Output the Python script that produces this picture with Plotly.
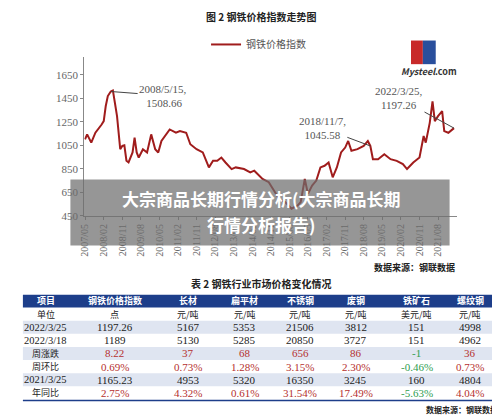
import plotly.graph_objects as go

# 钢铁价格指数
dates = ["2007-05-01", "2007-06-01", "2007-08-01", "2007-10-01", "2008-01-01", "2008-02-01",
         "2008-03-01", "2008-04-01", "2008-05-15", "2008-06-15", "2008-07-15", "2008-08-15",
         "2008-10-01", "2008-11-01", "2008-12-01", "2009-01-01", "2009-02-01", "2009-04-01",
         "2009-05-01", "2009-06-01", "2009-07-01", "2009-09-01", "2009-11-01", "2010-01-01",
         "2010-03-01", "2010-04-15", "2010-06-01", "2010-10-01", "2011-01-01", "2011-03-01",
         "2011-06-01", "2011-08-01", "2011-11-01", "2012-02-01", "2012-05-01", "2012-07-01",
         "2012-09-01", "2012-11-01", "2013-01-01", "2013-04-01", "2013-06-01", "2013-10-01",
         "2014-01-01", "2014-03-01", "2014-07-01", "2014-10-01", "2015-01-01", "2015-03-01",
         "2015-06-01", "2015-09-01", "2015-12-01", "2016-01-15", "2016-03-15", "2016-05-01",
         "2016-07-01", "2016-09-01", "2016-11-01", "2017-01-01", "2017-03-01", "2017-05-01",
         "2017-07-01", "2017-09-01", "2017-11-01", "2017-12-15", "2018-02-01", "2018-05-01",
         "2018-08-01", "2018-10-01", "2018-11-07", "2018-12-15", "2019-03-01", "2019-06-01",
         "2019-09-01", "2019-12-01", "2020-03-01", "2020-05-01", "2020-08-01", "2020-11-01",
         "2021-01-01", "2021-02-01", "2021-04-01", "2021-05-12", "2021-06-15", "2021-08-01",
         "2021-10-01", "2021-11-01", "2022-01-01", "2022-03-25"]
index_values = [1102, 1144, 1074, 1158, 1228, 1257, 1383, 1470, 1508.66, 1518, 1411, 1300,
                1018, 1046, 1051, 920, 905, 990, 1116, 990, 947, 1018, 990, 1144,
                1018, 990, 1088, 1186, 1158, 1172, 1158, 1060, 1018, 990, 863, 919,
                919, 947, 905, 849, 863, 849, 821, 835, 765, 737, 652, 596,
                568, 512, 540, 568, 765, 638, 709, 751, 863, 877, 905, 779,
                863, 990, 1032, 1088, 1004, 1018, 1046, 1088, 1045.58, 933, 933, 975,
                933, 919, 891, 849, 905, 947, 1130, 1074, 1242, 1425, 1257, 1299,
                1341, 1172, 1158, 1197.26]

tick_dates = ["2007-05-01", "2008-02-01", "2008-11-01", "2009-08-01", "2010-05-01", "2011-02-01",
              "2011-11-01", "2012-08-01", "2013-05-01", "2014-02-01", "2014-11-01", "2015-08-01",
              "2016-05-01", "2017-02-01", "2017-11-01", "2018-08-01", "2019-05-01", "2020-02-01",
              "2020-11-01", "2021-08-01"]

# 表 2
col_headers = ["项目", "钢铁价格指数", "长材", "扁平材", "不锈钢", "废钢", "铁矿石", "螺纹钢"]
row_labels = ["单位", "2022/3/25", "2022/3/18", "周涨跌", "周环比", "2021/3/25", "年同比"]
units = ["点", "元/吨", "元/吨", "元/吨", "元/吨", "美元/吨", "元/吨"]
price_0325 = ["1197.26", "5167", "5353", "21506", "3812", "151", "4998"]
price_0318 = ["1189", "5130", "5285", "20850", "3727", "151", "4962"]
week_change = ["8.22", "37", "68", "656", "86", "-1", "36"]
week_pct = ["0.69%", "0.73%", "1.28%", "3.15%", "2.30%", "-0.46%", "0.73%"]
price_2021 = ["1165.23", "4953", "5320", "16350", "3245", "160", "4804"]
year_pct = ["2.75%", "4.32%", "0.61%", "31.54%", "17.49%", "-5.63%", "4.04%"]

FONT = "Noto Sans CJK SC"
SERIF = "Liberation Serif"
RED = "#b5302e"
DARK = "#a01c1c"
GREEN = "#2e9e4f"
W, H = 500, 415

fig = go.Figure()
fig.add_trace(go.Scatter(x=dates, y=index_values, mode="lines", name="钢铁价格指数",
                         line=dict(color=DARK, width=2)))

fig.update_layout(
    width=W, height=H, paper_bgcolor="white", plot_bgcolor="white",
    margin=dict(l=0, r=0, t=0, b=0),
    font=dict(family=FONT, size=10, color="#555"),
    showlegend=True,
    legend=dict(x=195 / W, y=1 - 37 / H, xanchor="left", yanchor="middle", orientation="h",
                font=dict(size=10, color="#555"), bgcolor="rgba(0,0,0,0)"),
    xaxis=dict(domain=[72 / W, 448 / W], type="date", range=["2007-04-20", "2022-05-01"],
               tickvals=tick_dates, tickformat="%Y/%m", tickangle=-90, showgrid=False,
               showline=True, linecolor="#888", ticks="outside", ticklen=3, tickcolor="#888",
               tickfont=dict(family=SERIF, size=10, color="#666")),
    yaxis=dict(domain=[1 - 211 / H, 1 - 50 / H], range=[450, 1800],
               tickvals=[450, 650, 850, 1050, 1250, 1450, 1650],
               showgrid=False, showline=True, linecolor="#888", ticks="outside",
               ticklen=3, tickcolor="#888", zeroline=False,
               tickfont=dict(family=SERIF, size=11, color="#666")),
)

ann = dict(font=dict(family=SERIF, size=11, color="#555"),
           showarrow=True, arrowhead=0, arrowwidth=1, arrowcolor="#444")
fig.add_annotation(x="2008-05-20", y=1508.66, text="2008/5/15,<br> 1508.66",
                   ax=52, ay=4, **ann)
fig.add_annotation(x="2018-11-07", y=1045.58, text="2018/11/7,<br>1045.58",
                   ax=-48, ay=-18, **ann)
fig.add_annotation(x="2022-03-25", y=1197.26, text="2022/3/25,<br>1197.26",
                   ax=-55, ay=-30, **ann)


def page_text(px, py, text, size=10, color="#222", anchor="center", bold=False, family=FONT):
    fig.add_annotation(x=px / W, y=1 - py / H, xref="paper", yref="paper",
                       xanchor=anchor, yanchor="middle", showarrow=False,
                       text=f"<b>{text}</b>" if bold else text,
                       font=dict(family=family, size=size, color=color))


def page_rect(x0, y0, x1, y1, color):
    fig.add_shape(type="rect", xref="paper", yref="paper",
                  x0=x0 / W, x1=x1 / W, y0=1 - y1 / H, y1=1 - y0 / H,
                  fillcolor=color, line_width=0, layer="below")


# table drawn with shapes + annotations
col_x = [33, 103, 177, 234, 290, 346, 408, 462]
header_y = 297
row_h = 13.3
page_rect(10, 291, 490, 304, "#1d3e8a")
for i, h in enumerate(col_headers):
    page_text(col_x[i], header_y, h, size=9, color="white", bold=True)
rows = [units, price_0325, price_0318, week_change, week_pct, price_2021, year_pct]
red_rows = {3, 4, 6}
for ri, vals in enumerate(rows):
    yc = 304 + row_h * (ri + 0.5)
    if ri in (1, 3, 5):
        page_rect(10, yc - row_h / 2, 490, yc + row_h / 2, "#dfe5f1")
    is_date = row_labels[ri][0].isdigit()
    page_text(col_x[0], yc, row_labels[ri], size=10.5 if is_date else 9, color="#222",
              family=SERIF if is_date else FONT)
    for ci, v in enumerate(vals):
        if ri in red_rows:
            color = GREEN if v.startswith("-") else RED
        else:
            color = "#222"
        page_text(col_x[ci + 1], yc, v, size=11 if ri else 9, color=color,
                  family=FONT if ri == 0 else SERIF)
page_rect(10, 397.5, 490, 399, "#1d3e8a")

page_text(250, 9, "图 2 钢铁价格指数走势图", bold=True)
page_text(448, 263, "数据来源：钢联数据", size=9, anchor="right", bold=True)
page_text(250, 280, "表 2 钢铁行业市场价格变化情况", bold=True)
page_text(492, 407, "数据来源：钢联数据", size=8, anchor="right", bold=True)
page_text(450, 64, "<i>Mysteel</i>.com", size=9, color="#333", anchor="right", bold=True)
page_rect(402, 33, 414, 57, "#c82a2a")
page_rect(414, 33, 427, 57, "#2a4f9c")
fig.add_shape(type="rect", xref="paper", yref="paper", x0=58 / W, x1=441 / W,
              y0=1 - 241 / H, y1=1 - 174 / H, fillcolor="rgba(110,110,110,0.72)",
              line_width=0, layer="above")
page_text(250, 193, "大宗商品长期行情分析(大宗商品长期", size=17, color="white", bold=True)
page_text(250, 220, "行情分析报告)", size=17, color="white", bold=True)

fig.write_html("out.html")
